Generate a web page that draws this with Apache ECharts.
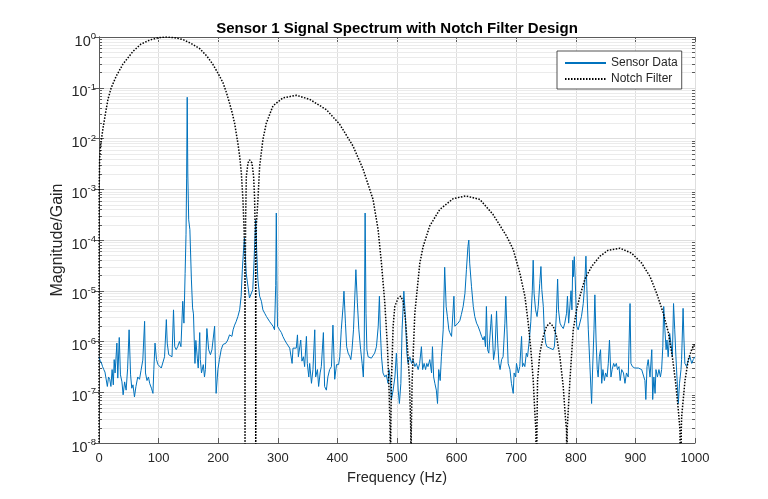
<!DOCTYPE html>
<html>
<head>
<meta charset="utf-8">
<title>Sensor 1 Signal Spectrum with Notch Filter Design</title>
<script src="https://cdn.jsdelivr.net/npm/echarts@6.0.0/dist/echarts.min.js"></script>
<style>
  html, body { margin: 0; padding: 0; background: #fff; }
  #main { width: 768px; height: 499px; }
</style>
</head>
<body>
<div id="main"></div>
<script>
// spectrum (Hz, magnitude)
var sensorFreq = [
  0, 2, 4, 6, 8, 10, 12, 14, 16, 18, 20, 22, 24, 25.5, 27, 30, 31.5, 34, 36, 38.5,
  40.5, 43, 45.5, 48, 50.5, 53, 55, 57, 59.5, 62, 65, 68, 70.5, 73.5, 76.5, 78, 80.5, 83, 85, 88,
  90.5, 92, 94, 96.5, 99, 101.5, 104.5, 107, 110, 113, 114.5, 117, 120, 122.5, 125, 127, 129.5, 132, 135, 137.5,
  140.5, 142.5, 144.5, 146, 147, 148, 149, 150.5, 152.5, 155, 157, 158.5, 161, 162.5, 165, 166.5, 169, 170, 172, 175,
  177, 178.5, 181, 184, 187, 189.5, 194, 196.5, 199.5, 202, 205, 208, 210.5, 213, 216, 219, 221, 223, 225, 227.5,
  230, 233, 236, 238.5, 240.5, 242.5, 244, 245.5, 247, 250, 252.5, 255.5, 258, 260, 261.5, 263, 264.5, 266.5, 269.5, 272.5,
  275, 278, 281, 283.5, 286.5, 289, 292, 294.5, 296.5, 297.5, 298.5, 299.5, 303, 306, 308.5, 311.5, 314.5, 317, 320, 322.5,
  324, 325.5, 328.5, 331, 333, 334.5, 337, 338.5, 340.5, 343, 345, 348, 349.5, 352, 353.5, 356.5, 359, 362, 363.5, 366.5,
  368.5, 371, 373, 376.5, 378.5, 381.5, 384, 387, 390, 392.5, 395.5, 398.5, 402, 404, 406.5, 409.5, 411, 413.5, 415.5, 418,
  421, 422.5, 424.5, 427, 429, 431, 433.5, 436, 439, 441.5, 443.5, 445, 446.5, 448, 449.5, 451.5, 454, 457, 460, 462.5,
  465.5, 468.5, 470.5, 472, 474, 476.5, 479.5, 482, 485, 486.5, 489, 490.5, 493.5, 496.5, 499, 502, 504, 506.5, 508.5, 511.5,
  514, 516.5, 518.5, 521.5, 524.5, 527, 530, 532.5, 535.5, 538, 541, 543, 545.5, 548, 550, 552, 555, 558, 559.5, 561.5,
  563.5, 566, 568, 570, 572.5, 574.5, 577.5, 580, 582.5, 584.5, 587, 588.5, 591.5, 593.5, 595.5, 597, 600, 602.5, 605.5, 608,
  611, 614, 616.5, 619, 620.5, 622, 625, 628, 630.5, 633.5, 636, 639, 642, 644.5, 646.5, 648.5, 650, 652, 654, 656,
  657.5, 658.5, 660.5, 662, 664.5, 667, 669, 671, 673, 675.5, 678, 681, 682.5, 684.5, 686.5, 689.5, 692, 695, 696.5, 699,
  700.5, 703.5, 706, 709, 710.5, 712.5, 714.5, 717, 719, 721.5, 723, 724.5, 727, 728.5, 730, 732.5, 735, 737, 739.5, 741.5,
  743, 745.5, 747, 749.5, 751.5, 754, 756.5, 759, 762, 764, 766, 767.5, 769.5, 771, 773.5, 776, 779, 781.5, 784.5, 786,
  788, 790, 792, 793.5, 795, 796, 797.5, 799, 801.5, 804, 806.5, 809.5, 812.5, 815, 817, 818.5, 821, 823.5, 826.5, 828,
  830.5, 832, 834, 836, 837.5, 839.5, 841.5, 843.5, 845.5, 848, 850, 852.5, 854.5, 856.5, 859, 861, 863.5, 865.5, 868, 870,
  872.5, 874.5, 877, 880, 882.5, 885, 888, 891, 892.5, 895, 897, 899, 902, 905, 908, 910.5, 913, 916, 917.5, 919.5,
  921.5, 924.5, 927.5, 929, 931, 933, 934.5, 937, 939.5, 942, 944, 946, 947.5, 949.5, 951.5, 953, 955, 957.5, 959, 962,
  964, 966, 968, 970.5, 972, 974, 976.5, 977.5, 980, 981.5, 983, 986, 989, 991.5, 994.5, 997, 1000
];
var sensorMag = [
  5.0e-7, 4.2e-7, 3.8e-7, 3.2e-7, 2.8e-7, 2.5e-7, 2.6e-7, 1.3e-7, 2.0e-7, 1.8e-7, 1.3e-7, 2.8e-7, 1.4e-7, 4.4e-7, 2.4e-7, 9.3e-7, 1.9e-7, 1.2e-6, 2.2e-7, 1.6e-7,
  8.9e-8, 1.6e-7, 1.1e-7, 2.9e-7, 1.7e-6, 2.2e-7, 1.2e-7, 1.4e-7, 8.1e-8, 1.3e-7, 2.0e-7, 1.8e-7, 2.7e-7, 4.3e-7, 2.5e-6, 2.4e-7, 1.7e-7, 2.0e-7, 1.5e-7, 1.2e-7,
  9.5e-8, 2.8e-7, 9.3e-7, 4.4e-7, 3.5e-7, 3.2e-7, 3.0e-7, 2.8e-7, 5.0e-7, 2.7e-6, 9.3e-7, 5.5e-7, 5.9e-7, 5.0e-7, 4.2e-6, 7.9e-7, 6.9e-7, 7.9e-7, 1.0e-6, 7.9e-7,
  6.2e-6, 2.3e-6, 2.2e-5, 1.3e-4, 1.6e-3, 6.5e-2, 2.0e-3, 2.5e-4, 1.6e-4, 1.7e-5, 4.6e-6, 3.5e-6, 3.7e-7, 1.05e-6, 4.7e-7, 3.0e-7, 1.5e-6, 4.4e-7, 2.4e-7, 3.5e-7,
  2.0e-7, 2.8e-7, 1.8e-6, 6.9e-7, 5.5e-7, 6.9e-7, 2.0e-6, 9.5e-8, 2.8e-7, 4.4e-7, 6.9e-7, 8.7e-7, 9.3e-7, 9.3e-7, 1.07e-6, 1.35e-6, 1.45e-6, 1.26e-6, 1.7e-6, 2.1e-6,
  2.45e-6, 3.1e-6, 4.2e-6, 7.8e-6, 2.6e-5, 6.3e-5, 1.1e-4, 5.0e-5, 2.2e-5, 1.2e-5, 7.2e-6, 6.6e-6, 1.05e-5, 3.5e-5, 1.0e-4, 2.5e-4, 6.5e-5, 1.7e-5, 7.8e-6, 6.2e-6,
  4.2e-6, 3.6e-6, 3.1e-6, 2.9e-6, 2.45e-6, 2.3e-6, 2.0e-6, 1.7e-6, 1.26e-5, 3.4e-4, 1.6e-5, 2.0e-6, 1.7e-6, 1.5e-6, 1.26e-6, 1.07e-6, 9.3e-7, 8.7e-7, 7.4e-7, 6.9e-7,
  3.7e-7, 7.4e-7, 7.4e-7, 7.4e-7, 1.35e-6, 5.0e-7, 4.7e-7, 1.07e-6, 4.1e-7, 5.0e-7, 3.2e-7, 1.26e-6, 3.7e-7, 2.0e-7, 3.7e-7, 1.5e-7, 2.8e-7, 1.7e-6, 2.0e-7, 2.8e-7,
  1.3e-7, 2.4e-7, 3.2e-7, 1.5e-6, 1.3e-7, 1.1e-7, 2.0e-7, 2.8e-7, 3.2e-7, 2.1e-6, 1.8e-7, 3.5e-7, 3.5e-7, 5.0e-7, 1.7e-6, 4.9e-6, 9.8e-6, 2.3e-6, 7.9e-7, 5.9e-7,
  5.0e-7, 4.4e-7, 6.9e-7, 1.7e-6, 6.6e-6, 2.6e-5, 5.8e-6, 1.7e-6, 6.9e-7, 3.7e-7, 2.0e-7, 7.9e-7, 3.4e-4, 3.6e-6, 6.9e-7, 5.0e-7, 4.7e-7, 4.7e-7, 5.0e-7, 5.9e-7,
  7.9e-7, 2.0e-6, 7.8e-6, 1.7e-6, 5.0e-7, 2.4e-7, 2.0e-7, 2.2e-7, 1.5e-7, 2.8e-7, 1.7e-7, 7.1e-8, 1.1e-7, 2.0e-7, 5.9e-7, 1.1e-7, 6.0e-8, 1.5e-7, 1.7e-6, 9.8e-6,
  3.1e-6, 5.9e-7, 3.7e-7, 5.0e-7, 3.7e-7, 4.4e-7, 3.2e-7, 3.7e-7, 2.8e-7, 3.7e-7, 7.9e-7, 2.8e-7, 3.7e-7, 2.8e-7, 3.7e-7, 3.2e-7, 4.4e-7, 2.4e-7, 7.9e-7, 2.0e-7,
  1.5e-7, 1.1e-7, 6.0e-8, 2.8e-7, 1.7e-7, 5.0e-7, 1.7e-6, 2.9e-5, 4.9e-6, 3.1e-6, 1.7e-6, 1.5e-6, 1.26e-6, 1.26e-6, 7.8e-6, 2.0e-6, 2.1e-6, 2.3e-6, 2.6e-6, 3.4e-6,
  4.9e-6, 8.9e-6, 2.6e-5, 7.4e-5, 1.0e-4, 3.5e-5, 1.2e-5, 4.9e-6, 3.1e-6, 2.3e-6, 2.0e-6, 1.6e-6, 1.26e-6, 1.07e-6, 1.26e-6, 7.9e-7, 4.9e-6, 6.9e-7, 5.9e-7, 5.9e-7,
  2.3e-6, 3.4e-6, 1.07e-6, 4.4e-7, 6.9e-7, 4.0e-6, 9.3e-7, 3.7e-7, 2.8e-7, 4.4e-7, 5.0e-7, 2.3e-6, 7.8e-6, 1.7e-6, 3.7e-7, 2.8e-7, 1.5e-7, 9.5e-8, 2.4e-7, 2.0e-7,
  3.7e-7, 2.4e-7, 3.2e-7, 1.26e-6, 3.2e-7, 3.7e-7, 3.2e-7, 5.9e-7, 5.0e-7, 9.3e-7, 1.45e-6, 2.45e-6, 1.0e-5, 4.0e-5, 8.9e-6, 4.2e-6, 3.1e-6, 4.9e-6, 1.4e-5, 3.0e-5,
  1.05e-5, 4.9e-6, 1.7e-6, 9.3e-7, 7.9e-7, 7.4e-7, 7.4e-7, 7.4e-7, 6.9e-7, 7.9e-7, 1.7e-6, 3.6e-6, 1.7e-5, 4.2e-6, 2.3e-6, 2.0e-6, 1.8e-6, 2.3e-6, 3.6e-6, 7.8e-6,
  2.3e-6, 2.3e-6, 1.0e-5, 4.2e-6, 4.0e-5, 1.9e-5, 4.7e-5, 1.7e-5, 2.0e-6, 1.7e-6, 1.8e-6, 3.1e-6, 5.6e-6, 1.4e-5, 4.8e-5, 1.2e-5, 1.7e-6, 3.7e-7, 6.0e-8, 2.4e-7,
  1.7e-6, 8.3e-6, 1.07e-6, 2.8e-7, 2.0e-7, 5.0e-7, 6.9e-7, 1.5e-7, 2.8e-7, 1.7e-7, 2.4e-7, 2.0e-7, 3.7e-7, 1.07e-6, 2.0e-7, 2.8e-7, 3.7e-7, 3.2e-7, 3.7e-7, 2.8e-7,
  3.2e-7, 1.7e-7, 2.8e-7, 2.4e-7, 1.5e-7, 2.4e-7, 2.0e-7, 5.6e-6, 3.7e-7, 3.2e-7, 3.2e-7, 3.0e-7, 3.2e-7, 3.0e-7, 3.2e-7, 2.8e-7, 2.8e-7, 1.7e-7, 7.2e-8, 3.2e-7,
  4.4e-7, 2.0e-7, 6.9e-7, 7.2e-8, 2.0e-7, 9.5e-8, 2.8e-7, 2.0e-7, 2.8e-7, 2.0e-7, 2.8e-7, 7.9e-7, 4.9e-6, 1.7e-6, 6.9e-7, 1.07e-6, 5.0e-7, 1.45e-6, 1.07e-6, 5.0e-7,
  5.6e-6, 1.7e-6, 5.0e-7, 1.3e-7, 6.0e-8, 1.5e-7, 2.8e-7, 4.4e-7, 4.5e-6, 1.07e-6, 3.7e-7, 3.2e-7, 4.4e-7, 5.0e-7, 3.7e-7, 4.4e-7, 5.0e-7
];

// notch filter gain (zeros placed below the axis floor)
var filterFreq = [
  0, 0.05, 0.3, 1, 2.5, 6.4, 11, 15, 20.5, 29, 40, 57, 70, 85, 100, 113, 127, 141, 155, 169,
  181, 191, 200, 208, 214, 219, 223.5, 227.5, 233, 236, 238.8, 241.5, 243.5, 244.5, 245,
  245.5, 246, 247.2, 250, 252.7, 256.6, 259.4, 261, 262.2, 262.8, 263,
  263.2, 264, 266.7, 269.5, 275, 280.7, 291.9, 308.6, 331, 353.5, 381.5, 403.9, 426.2, 443, 459.8, 468.3, 473.9, 479.5, 484, 486.7, 488.4, 489,
  489.6, 490.7, 493.5, 496.3, 501.9, 506.3, 510.3, 514.2, 517.5, 520.9, 523.1, 523.5,
  524, 525.4, 529.9, 538.3, 543.8, 555, 571.8, 594, 615.5, 639, 661, 683.8, 695, 706.2, 714.6, 720.2, 724.6, 728.6, 731.3, 733, 734,
  734.8, 735.8, 739.7, 745.4, 751, 756.5, 762.1, 767.7, 773.3, 778.9, 782.9, 784.5, 785,
  785.5, 790.1, 795.7, 801.3, 806.9, 815.3, 826.5, 840.5, 854.5, 874.1, 893.7, 910.5, 924.5, 935.7, 946.8, 955.3, 962, 967.6, 972, 974.8, 976,
  977, 977.6, 983.2, 988.8, 994.4, 1000
];
var filterGain = [
  1e-10, 1e-6, 1.0e-3, 4.0e-3, 7.1e-3, 1.5e-2, 3.2e-2, 5.9e-2, 0.10, 0.17, 0.29, 0.52, 0.72, 0.87, 0.97, 1.0, 0.97, 0.89, 0.74, 0.59,
  0.42, 0.29, 0.19, 0.126, 0.079, 0.050, 0.032, 0.020, 8.1e-3, 4.5e-3, 2.1e-3, 6.3e-4, 1.5e-4, 4e-5, 1e-10,
  3e-5, 2.5e-4, 1.8e-3, 3.3e-3, 3.8e-3, 3.3e-3, 1.8e-3, 7e-4, 1.4e-4, 2e-5, 1e-10,
  2e-5, 2e-4, 6.3e-4, 2.8e-3, 9.5e-3, 2.0e-2, 4.4e-2, 6.3e-2, 7.1e-2, 5.9e-2, 3.7e-2, 1.9e-2, 7.1e-3, 2.5e-3, 6.3e-4, 1.6e-4, 3.5e-5, 5.8e-6, 7.9e-7, 1.1e-7, 1.8e-8, 1e-10,
  1.8e-8, 1.7e-7, 2.0e-6, 4.9e-6, 7.2e-6, 7.8e-6, 6.2e-6, 2.7e-6, 7.9e-7, 1.7e-7, 1.8e-8, 1e-10,
  1.8e-8, 1.7e-7, 3.6e-6, 3.5e-5, 7.4e-5, 1.9e-4, 4.0e-4, 6.5e-4, 7.4e-4, 6.3e-4, 3.2e-4, 1.2e-4, 6.5e-5, 2.2e-5, 7.8e-6, 2.3e-6, 6.9e-7, 1.7e-7, 3.9e-8, 1.8e-8, 1e-10,
  1.8e-8, 1.7e-7, 5.9e-7, 1.26e-6, 2.0e-6, 2.3e-6, 2.0e-6, 1.26e-6, 5.0e-7, 1.3e-7, 2.8e-8, 1.8e-8, 1e-10,
  1.8e-8, 1.7e-7, 1.7e-6, 4.2e-6, 7.8e-6, 1.7e-5, 3.0e-5, 4.8e-5, 6.3e-5, 6.9e-5, 5.5e-5, 3.5e-5, 1.9e-5, 8.9e-6, 3.6e-6, 1.5e-6, 5.0e-7, 1.5e-7, 4.5e-8, 1.8e-8, 1e-10,
  1.8e-8, 3.3e-8, 1.7e-7, 4.4e-7, 6.9e-7, 9.3e-7
];

var xTicks = [0, 100, 200, 300, 400, 500, 600, 700, 800, 900, 1000];
var yDecades = [1e-8, 1e-7, 1e-6, 1e-5, 1e-4, 1e-3, 1e-2, 1e-1, 1];

function zip(a, b) {
    var out = [];
    for (var i = 0; i < a.length; i++) {
        out.push([a[i], b[i]]);
    }
    return out;
}

// minor log grid positions 2..9 inside each decade
var minorValues = [];
for (var d = 0; d < yDecades.length - 1; d++) {
    for (var m = 2; m <= 9; m++) {
        minorValues.push(m * yDecades[d]);
    }
}

var textColor = '#262626';
var axisColor = '#5a5a5a';
var font = 'Liberation Sans, Arial, Helvetica, sans-serif';

var myChart = echarts.init(document.getElementById('main'));

var option = {
    animation: false,
    backgroundColor: '#ffffff',
    textStyle: { fontFamily: font },
    title: {
        text: 'Sensor 1 Signal Spectrum with Notch Filter Design',
        left: 392,
        top: 16,
        textAlign: 'center',
        textStyle: { fontSize: 15, fontWeight: 'bold', color: '#000', fontFamily: font }
    },
    legend: {
        data: ['Sensor Data', 'Notch Filter'],
        orient: 'vertical',
        left: 557,
        top: 51,
        itemWidth: 41,
        itemHeight: 12,
        itemGap: 4,
        padding: [6, 4, 4, 7],
        borderColor: textColor,
        borderWidth: 0.8,
        borderRadius: 0,
        backgroundColor: '#ffffff',
        itemStyle: { opacity: 0 },
        textStyle: { fontSize: 12, color: textColor, fontFamily: font }
    },
    grid: { left: 99, right: 73, top: 37, bottom: 56 },
    xAxis: [
        {
            type: 'value',
            min: 0,
            max: 1000,
            interval: 100,
            position: 'bottom',
            name: 'Frequency (Hz)',
            nameLocation: 'middle',
            nameGap: 27,
            nameTextStyle: { fontSize: 14.5, color: textColor, fontFamily: font },
            axisLine: { show: true, lineStyle: { color: axisColor, width: 1 } },
            axisTick: { show: true, inside: true, length: 5, lineStyle: { color: axisColor } },
            axisLabel: {
                fontSize: 13,
                color: textColor,
                margin: 9,
                formatter: function (v) { return xTicks.indexOf(v) >= 0 ? String(v) : ''; }
            },
            splitLine: { show: true, lineStyle: { color: '#dedede', width: 1 } }
        },
        {
            type: 'value',
            min: 0,
            max: 1000,
            interval: 100,
            position: 'top',
            axisLine: { show: true, lineStyle: { color: axisColor, width: 1 } },
            axisTick: { show: true, inside: true, length: 5, lineStyle: { color: axisColor } },
            axisLabel: { show: false },
            splitLine: { show: false }
        }
    ],
    yAxis: [
        {
            type: 'log',
            logBase: 10,
            min: 1e-8,
            max: 1,
            splitNumber: 8,
            position: 'left',
            name: 'Magnitude/Gain',
            nameLocation: 'middle',
            nameGap: 33,
            nameMoveOverlap: false,
            nameTextStyle: { fontSize: 16, color: textColor, fontFamily: font },
            axisLine: { show: true, lineStyle: { color: axisColor, width: 1 } },
            axisTick: { show: true, inside: true, length: 5, lineStyle: { color: axisColor } },
            axisLabel: {
                margin: 3,
                formatter: function (v) {
                    var e = Math.round(Math.log10(v));
                    return '{b|10}{s|' + e + '}';
                },
                rich: {
                    b: { fontSize: 14.5, lineHeight: 16, padding: [5, 0, 0, 0], verticalAlign: 'top', color: textColor, fontFamily: font },
                    s: { fontSize: 9.5, lineHeight: 10, padding: [2.5, 0, 0, 0], verticalAlign: 'top', color: textColor, fontFamily: font }
                }
            },
            splitLine: { show: true, lineStyle: { color: '#dedede', width: 1 } }
        },
        {
            type: 'log',
            logBase: 10,
            min: 1e-8,
            max: 1,
            splitNumber: 8,
            position: 'right',
            axisLine: { show: true, lineStyle: { color: axisColor, width: 1 } },
            axisTick: { show: true, inside: true, length: 5, lineStyle: { color: axisColor } },
            axisLabel: { show: false },
            splitLine: { show: false }
        }
    ],
    series: [
        {
            // minor grid lines and minor ticks on both sides
            name: 'minor',
            type: 'custom',
            silent: true,
            z: 1,
            data: minorValues.map(function (v) { return [0, v]; }),
            renderItem: function (params, api) {
                var cs = params.coordSys;
                var y = Math.round(api.coord([0, api.value(1)])[1]) + 0.5;
                var x0 = cs.x, x1 = cs.x + cs.width;
                return {
                    type: 'group',
                    children: [
                        { type: 'line', shape: { x1: x0, y1: y, x2: x1, y2: y }, style: { stroke: '#ebebeb', lineWidth: 1 } },
                        { type: 'line', shape: { x1: x0, y1: y, x2: x0 + 3, y2: y }, style: { stroke: axisColor, lineWidth: 1 } },
                        { type: 'line', shape: { x1: x1 - 3, y1: y, x2: x1, y2: y }, style: { stroke: axisColor, lineWidth: 1 } }
                    ]
                };
            }
        },
        {
            name: 'Sensor Data',
            type: 'line',
            data: zip(sensorFreq, sensorMag),
            symbol: 'none',
            z: 3,
            lineStyle: { color: '#0072BD', width: 1 },
            itemStyle: { color: '#0072BD' }
        },
        {
            name: 'Notch Filter',
            type: 'line',
            data: zip(filterFreq, filterGain),
            symbol: 'none',
            z: 4,
            lineStyle: { color: '#000000', width: 1.5, type: [1.5, 1.5] },
            itemStyle: { color: '#000000' }
        }
    ]
};

myChart.setOption(option);
</script>
</body>
</html>
